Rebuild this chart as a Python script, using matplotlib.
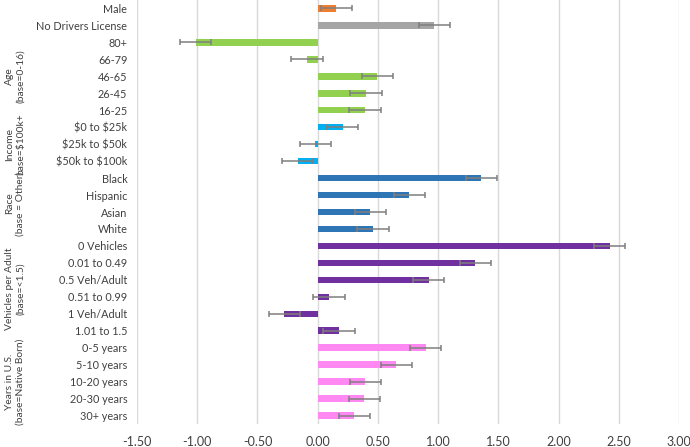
import matplotlib
matplotlib.use("Agg")
import matplotlib.pyplot as plt

categories = ["Male", "No Drivers License",
              "80+", "66-79", "46-65", "26-45", "16-25",
              "$0 to $25k", "$25k to $50k", "$50k to $100k",
              "Black", "Hispanic", "Asian", "White",
              "0 Vehicles", "0.01 to 0.49", "0.5 Veh/Adult", "0.51 to 0.99", "1 Veh/Adult", "1.01 to 1.5",
              "0-5 years", "5-10 years", "10-20 years", "20-30 years", "30+ years"]
values = [0.155, 0.968,
          -1.012, -0.089, 0.495, 0.401, 0.393,
          0.207, -0.018, -0.165,
          1.358, 0.761, 0.437, 0.459,
          2.423, 1.309, 0.921, 0.094, -0.276, 0.177,
          0.896, 0.653, 0.396, 0.387, 0.304]
errors = [0.13, 0.13,
          0.13, 0.13, 0.13, 0.13, 0.13,
          0.13, 0.13, 0.13,
          0.13, 0.13, 0.13, 0.13,
          0.13, 0.13, 0.13, 0.13, 0.13, 0.13,
          0.13, 0.13, 0.13, 0.13, 0.13]
groups = ["Male", "License", "Age", "Age", "Age", "Age", "Age",
          "Income", "Income", "Income",
          "Race", "Race", "Race", "Race",
          "Veh", "Veh", "Veh", "Veh", "Veh", "Veh",
          "Years", "Years", "Years", "Years", "Years"]
group_colors = {"Male": "#ED7D31", "License": "#A5A5A5", "Age": "#92D050",
                "Income": "#00B0F0", "Race": "#2E75B6", "Veh": "#7030A0",
                "Years": "#FF88F2"}
group_labels = [("Age\n(base=0-16)", 2, 6),
                ("Income\nbase=$100k+", 7, 9),
                ("Race\n(base = Other)", 10, 13),
                ("Vehicles per Adult\n(base=<1.5)", 14, 19),
                ("Years in U.S.\n(base=Native Born)", 20, 24)]
xticks = [-1.5, -1.0, -0.5, 0.0, 0.5, 1.0, 1.5, 2.0, 2.5, 3.0]

plt.rcParams['font.family'] = ['Lato', 'DejaVu Sans']
plt.rcParams['text.parse_math'] = False

fig = plt.figure(figsize=(6.9, 4.47), dpi=100)
ax = fig.add_axes([137/690, 1 - 424/447, (679-137)/690, 424/447])

ypos = list(range(len(categories)))
colors = [group_colors[g] for g in groups]
ax.barh(ypos, values, height=0.38, color=colors, zorder=2)
ax.errorbar(values, ypos, xerr=errors, fmt='none', ecolor='#7F7F7F',
            elinewidth=1.1, capsize=2.5, capthick=1.1, zorder=3)

ax.set_xlim(-1.5, 3.0)
ax.set_ylim(24.5, -0.5)
ax.set_xticks(xticks)
ax.set_xticklabels([f"{t:.2f}" for t in xticks], fontsize=9, color='#404040')
ax.set_yticks(ypos)
ax.set_yticklabels(categories, fontsize=7.8, color='#404040')
ax.tick_params(axis='both', length=0)
ax.tick_params(axis='x', pad=9)
ax.tick_params(axis='y', pad=7)
ax.grid(axis='x', color='#D9D9D9', linewidth=1, zorder=0)
ax.set_axisbelow(True)
for s in ax.spines.values():
    s.set_visible(False)

for text, a, b in group_labels:
    yc = (a + b) / 2
    disp = ax.transData.transform((0, yc))
    fy = fig.transFigure.inverted().transform(disp)[1]
    fig.text(15/690, fy, text, rotation=90, ha='center', va='center',
             multialignment='center', fontsize=7.4, color='#404040',
             linespacing=1.25)

fig.savefig("out.png", dpi=100)
